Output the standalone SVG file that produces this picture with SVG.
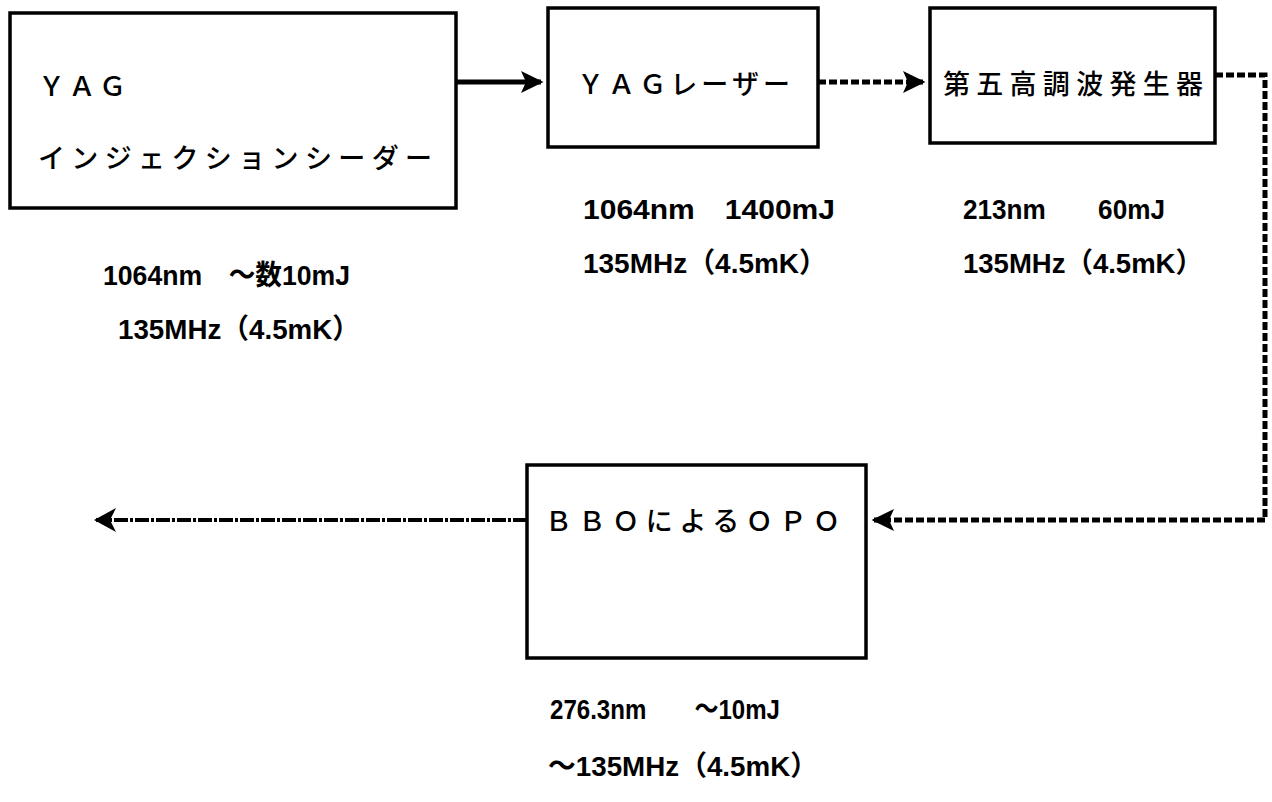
<svg xmlns="http://www.w3.org/2000/svg" width="1272" height="802" viewBox="0 0 1272 802">
<defs>
<style>
.box{fill:#fff;stroke:#000;stroke-width:3.5}
.lbl{font-family:"Noto Sans CJK JP","Noto Sans CJK SC",sans-serif;font-size:27px;font-weight:500;fill:#000}
.num{font-family:"Liberation Sans Narrow","Liberation Sans","Noto Sans CJK JP",sans-serif;font-size:28px;font-weight:bold;fill:#000}
.solid{stroke:#000;stroke-width:5;fill:none}
.dash{stroke:#000;stroke-width:5;fill:none;stroke-dasharray:8 3}
.dashdot{stroke:#000;stroke-width:4;fill:none;stroke-dasharray:14 2 3 2}
</style>
<marker id="ah" markerWidth="5" markerHeight="5" refX="4" refY="2.5" orient="auto" markerUnits="strokeWidth"><path d="M0,0.3 L4.5,2.5 L0,4.7 L1,2.5 Z" fill="#000"/></marker>
<marker id="ah2" markerWidth="6" markerHeight="6" refX="5" refY="3" orient="auto" markerUnits="strokeWidth"><path d="M0,0 L5.5,3 L0,6 L1.5,3 Z" fill="#000"/></marker>
</defs>
<rect width="1272" height="802" fill="#fff"/>
<g id="connectors">
<path class="solid" d="M456,82 L541,82" marker-end="url(#ah)"/>
<path class="dash" d="M818,82 L923,82" marker-end="url(#ah)"/>
<path class="dash" d="M1215,75 L1265,75 L1265,520 L874,520" marker-end="url(#ah)"/>
<path class="dashdot" d="M527,520 L96,520" marker-end="url(#ah2)"/>
</g>
<g id="n1">
<rect class="box" x="10" y="13" width="446" height="195"/>
<text class="lbl" x="38" y="96" textLength="88" lengthAdjust="spacing">ＹＡＧ</text>
<text class="lbl" x="38" y="168" textLength="394" lengthAdjust="spacing">インジェクションシーダー</text>
<text class="num" x="103" y="285" textLength="247" lengthAdjust="spacingAndGlyphs">1064nm　～数10mJ</text>
<text class="num" x="118" y="339" textLength="242" lengthAdjust="spacingAndGlyphs">135MHz（4.5mK）</text>
</g>
<g id="n2">
<rect class="box" x="548" y="8" width="270" height="139"/>
<text class="lbl" x="577" y="94" textLength="213" lengthAdjust="spacing">ＹＡＧレーザー</text>
<text class="num" x="583" y="219" textLength="252" lengthAdjust="spacingAndGlyphs">1064nm　1400mJ</text>
<text class="num" x="583" y="273" textLength="244" lengthAdjust="spacingAndGlyphs">135MHz（4.5mK）</text>
</g>
<g id="n3">
<rect class="box" x="930" y="8" width="285" height="135"/>
<text class="lbl" x="943" y="94" textLength="260" lengthAdjust="spacing">第五高調波発生器</text>
<text class="num" x="963" y="219" textLength="202" lengthAdjust="spacingAndGlyphs">213nm　　60mJ</text>
<text class="num" x="963" y="273" textLength="240" lengthAdjust="spacingAndGlyphs">135MHz（4.5mK）</text>
</g>
<g id="n4">
<rect class="box" x="527" y="465" width="339" height="193"/>
<text class="lbl" x="545" y="531" textLength="295" lengthAdjust="spacing">ＢＢＯによるＯＰＯ</text>
<text class="num" x="550" y="719" textLength="230" lengthAdjust="spacingAndGlyphs">276.3nm　　～10mJ</text>
<text class="num" x="548" y="776" textLength="270" lengthAdjust="spacingAndGlyphs">～135MHz（4.5mK）</text>
</g>
</svg>
